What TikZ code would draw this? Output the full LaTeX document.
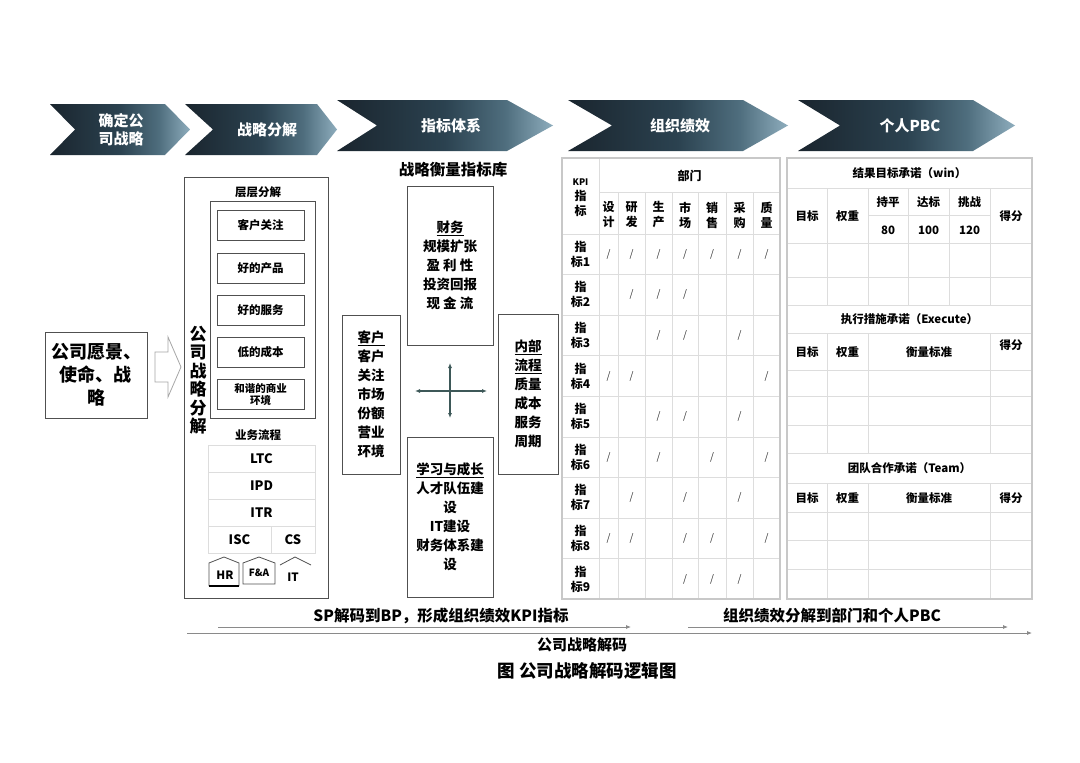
\documentclass[tikz,border=0pt]{standalone}
\usepackage{fontspec}
\setmainfont{Noto Sans CJK SC}
\usetikzlibrary{arrows.meta,positioning,calc}
\definecolor{chevdark}{HTML}{1A252E}
\definecolor{chevmid}{HTML}{2B4250}
\definecolor{chevsoft}{HTML}{4F6E7E}
\definecolor{chevlight}{HTML}{8EADBD}
\definecolor{panelline}{HTML}{505050}
\definecolor{gridline}{HTML}{DDDDDD}
\definecolor{frameline}{HTML}{C8C8C8}
\definecolor{crossline}{HTML}{3D5858}
\definecolor{flowline}{HTML}{8A8A8A}
\pgfdeclarehorizontalshading{chevshade}{100bp}{color(0bp)=(chevdark); color(25bp)=(chevdark); color(50bp)=(chevmid); color(64bp)=(chevsoft); color(75bp)=(chevlight); color(100bp)=(chevlight)}
\newcommand{\fsz}[2]{\fontsize{#1}{#2}\selectfont}

\begin{document}
\begin{tikzpicture}[x=1pt,y=-1pt,>=Latex,
  chevtext/.style={text=white,font=\bfseries\fsz{15}{18},align=center,inner sep=0pt},
  panel/.style={draw=panelline,line width=1pt,inner sep=0pt},
  itembox/.style={panel,minimum width=87,minimum height=30,font=\bfseries\fsz{11.5}{13},align=center},
  cell/.style={draw=gridline,line width=0.8pt,minimum height=27,inner sep=0pt,font=\bfseries\fsz{13}{15}},
  lab/.style={font=\bfseries\fsz{11.5}{13},inner sep=0pt,align=center},
  kpilab/.style={font=\bfseries\fsz{12}{15},inner sep=0pt,align=center},
  boxtext/.style={panel,font=\bfseries\fsz{13.5}{19},align=center},
  tick/.style={font=\fsz{10}{12},text=black!80,inner sep=0pt},
  grid/.style={draw=gridline,line width=0.8pt},
  frame/.style={draw=frameline,line width=1.6pt},
  flow/.style={draw=flowline,line width=0.8pt,-{Latex[length=5pt,width=4pt]}},
  botlab/.style={font=\bfseries\fsz{15.5}{18},inner sep=0pt}]
  \useasboundingbox (0,0) rectangle (1080,763);
  \fill[white] (0,0) rectangle (1080,763);

  \foreach \n/\l/\c/\r/\p/\yt/\tx/\txt in {1/50/75/165/190/104/121/{确定公\\司战略},
      2/185/213/317/337/104/267/{战略分解},3/337/377/507/553/100/451/{指标体系},
      4/568/612/743/788/100/680/{组织绩效},5/798/840/973/1015/100/910/{个人PBC}}{
    \shade[shading=chevshade] (\l,\yt) -- (\r,\yt) -- (\p,{\yt+25.5}) -- (\r,{\yt+51})
      -- (\l,{\yt+51}) -- (\c,{\yt+25.5}) -- cycle;
    \node[chevtext] (chev\n) at (\tx,{\yt+25.5}) {\txt};}

  \node[panel,minimum width=102,minimum height=86,font=\bfseries\fsz{18}{23},align=center] (vision) at (96,375) {公司愿景、\\使命、战\\略};
  \draw[draw=black!35,line width=0.8pt,fill=white] (155,352) -- (168,352) -- (168,337) -- (181,367)
    -- (168,397) -- (168,382) -- (155,382) -- cycle;

  \node[panel,minimum width=144,minimum height=421] (decomp) at (256,387.5) {};
  \node[lab,font=\bfseries\fsz{17}{18.5}] (decomptext) at (198,380) {公\\司\\战\\略\\分\\解};
  \node[lab] (layertitle) at (258,192) {层层分解};
  \node[panel,minimum width=105,minimum height=217] (layer) at (262.5,309.5) {};
  \foreach \i/\y/\t in {1/225/客户关注,2/268/好的产品,3/310/好的服务,4/352/低的成本}
    \node[itembox] (item\i) at (260.5,\y) {\t};
  \node[itembox,font=\bfseries\fsz{10.5}{12}] (item5) at (260.5,394) {和谐的商业\\环境};

  \node[lab] (flowtitle) at (258,435) {业务流程};
  \foreach \n/\y in {LTC/458.5,IPD/485.5,ITR/512.5}
    \node[cell,minimum width=107] (\n) at (261.5,\y) {\n};
  \node[cell,minimum width=63] (ISC) at (239.5,539.5) {ISC};
  \node[cell,minimum width=44] (CS) at (293,539.5) {CS};
  \draw[panelline,line width=0.8pt] (209,586) -- (209,563) -- (224,557) -- (239,563) -- (239,586);
  \draw[black,line width=1.2pt] (209,586) -- (239,586);
  \draw[panelline,line width=0.8pt] (243,584) -- (243,563) -- (259,557) -- (275,563) -- (275,584) -- cycle;
  \draw[panelline,line width=0.8pt] (280,565) -- (295,557) -- (311,565);
  \node[lab] (HR) at (225,575) {HR};
  \node[lab,font=\bfseries\fsz{10}{12}] (FA) at (259,573) {F\&A};
  \node[lab] (IT) at (293,577) {IT};

  \node[font=\bfseries\fsz{15.5}{18},inner sep=0pt] (libtitle) at (453,170) {战略衡量指标库};
  \node[boxtext,minimum width=86,minimum height=159] (finance) at (450,265.5)
    {\underline{财务}\\规模扩张\\盈 利 性\\投资回报\\现 金 流};
  \node[boxtext,minimum width=58,minimum height=159] (customer) at (371,394.5)
    {\underline{客户}\\客户\\关注\\市场\\份额\\营业\\环境};
  \node[boxtext,minimum width=60,minimum height=160] (process) at (528,394)
    {\underline{内部}\\\underline{流程}\\质量\\成本\\服务\\周期};
  \node[boxtext,minimum width=86,minimum height=160] (learning) at (450,517)
    {\underline{学习与成长}\\人才队伍建\\设\\IT建设\\财务体系建\\设};
  \coordinate (crossN) at (450,363);
  \coordinate (crossS) at (450,418);
  \coordinate (crossW) at (415,391);
  \coordinate (crossE) at (487,391);
  \draw[crossline,line width=1.2pt,{Latex[length=5pt,width=4pt]}-{Latex[length=5pt,width=4pt]}] (crossW) -- (crossE);
  \draw[crossline,line width=1.2pt,{Latex[length=5pt,width=4pt]}-{Latex[length=5pt,width=4pt]}] (crossN) -- (crossS);

  \draw[grid] (599,192) -- (780,192);
  \foreach \k in {0,...,8}
    \draw[grid] (562,{234+40.6*\k}) -- (780,{234+40.6*\k});
  \draw[grid] (599,158) -- (599,599);
  \foreach \x in {618,645,672,698,726,753}
    \draw[grid] (\x,192) -- (\x,599);
  \draw[frame] (562,158) rectangle (780,599);
  \node[kpilab] (kpihead) at (580.5,198) {{\fsz{9}{11}KPI}\\指\\标};
  \node[kpilab] (dept) at (689.5,176) {部门};
  \foreach \c/\x/\h in {1/608.5/{设\\计},2/631.5/{研\\发},3/658.5/{生\\产},4/685/{市\\场},
      5/712/{销\\售},6/739.5/{采\\购},7/766.5/{质\\量}}
    \node[kpilab] (hd\c) at (\x,215) {\h};
  \foreach \r in {1,...,9}
    \node[kpilab] (kr\r) at (580.5,{234+40.6*(\r-0.5)}) {指\\标\r};
  \foreach \r/\cs in {1/{1,2,3,4,5,6,7},2/{2,3,4},3/{3,4,6},4/{1,2,7},5/{3,4,6},
      6/{1,3,5,7},7/{2,4,6},8/{1,2,4,5,7},9/{4,5,6}}
    \foreach \c in \cs {
      \pgfmathsetmacro\mx{{608.5,631.5,658.5,685,712,739.5,766.5}[\c-1]}
      \node[tick] (m\r-\c) at (\mx,{234+40.6*(\r-0.5)}) {/};}

  \foreach \y in {188,243,277,305,333,370,396,425,453,483,512,540,569}
    \draw[grid] (787,\y) -- (1032,\y);
  \draw[grid] (868,215) -- (990,215);
  \foreach \x in {827,868,908,949,990}
    \draw[grid] (\x,188) -- (\x,305);
  \foreach \x in {827,868,990}{
    \draw[grid] (\x,333) -- (\x,453);
    \draw[grid] (\x,483) -- (\x,599);}
  \draw[frame] (787,158) rectangle (1032,599);
  \node[lab] (wintitle) at (909.5,173) {结果目标承诺（win）};
  \node[lab] (wgoal) at (807,216) {目标};
  \node[lab] (wweight) at (847.5,216) {权重};
  \foreach \k/\x/\top/\val in {1/888/持平/80,2/928.5/达标/100,3/969.5/挑战/120}{
    \node[lab] (wlevel\k) at (\x,202) {\top};
    \node[lab] (wvalue\k) at (\x,230) {\val};}
  \node[lab] (wscore) at (1011,216) {得分};
  \node[lab] (exetitle) at (909.5,319) {执行措施承诺（Execute）};
  \node[lab] (teamtitle) at (909.5,468) {团队合作承诺（Team）};
  \foreach \s/\y/\ys in {exe/352/345,team/498/498}{
    \node[lab] (\s goal) at (807,\y) {目标};
    \node[lab] (\s weight) at (847.5,\y) {权重};
    \node[lab] (\s measure) at (929,\y) {衡量标准};
    \node[lab] (\s score) at (1011,\ys) {得分};}

  \coordinate (sp0) at (218,627);
  \coordinate (sp1) at (631,627);
  \coordinate (pb0) at (688,627);
  \coordinate (pb1) at (1008,627);
  \coordinate (dc0) at (187,633);
  \coordinate (dc1) at (1032,633);
  \draw[flow] (sp0) -- (sp1);
  \draw[flow] (pb0) -- (pb1);
  \draw[flow] (dc0) -- (dc1);
  \node[botlab] (sptext) at (441,616) {SP解码到BP，形成组织绩效KPI指标};
  \node[botlab] (pbtext) at (832,616) {组织绩效分解到部门和个人PBC};
  \node[botlab,font=\bfseries\fsz{15}{18}] (dctext) at (582,645) {公司战略解码};
  \node[botlab,font=\bfseries\fsz{17.5}{20}] (caption) at (587,671) {图 公司战略解码逻辑图};
\end{tikzpicture}
\end{document}
